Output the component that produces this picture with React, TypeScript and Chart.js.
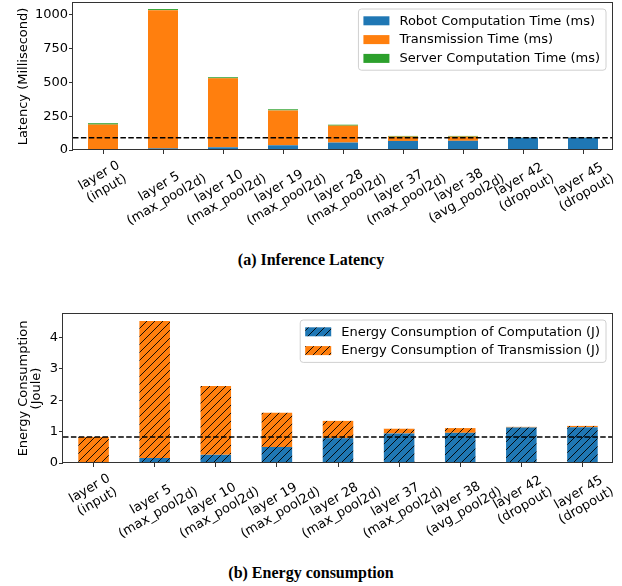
import React, { useEffect, useRef } from "react";
import { Chart, registerables } from "chart.js";

Chart.register(...registerables);

// ---------- data ----------
const layerLabels: string[][] = [
  ["layer 0", "(input)"],
  ["layer 5", "(max_pool2d)"],
  ["layer 10", "(max_pool2d)"],
  ["layer 19", "(max_pool2d)"],
  ["layer 28", "(max_pool2d)"],
  ["layer 37", "(max_pool2d)"],
  ["layer 38", "(avg_pool2d)"],
  ["layer 42", "(dropout)"],
  ["layer 45", "(dropout)"],
];

const robotTime = [0, 12, 20, 35, 55, 67, 68, 91, 91];
const transTime = [188, 1022, 510, 258, 125, 32, 31, 2, 2];
const serverTime = [10, 8, 8, 8, 7, 5, 5, 1, 1];
const latencyThreshold = 91;
const latencyTicks = [0, 250, 500, 750, 1000];
const latencyMax = 1087;

const compEnergy = [0, 0.16, 0.26, 0.51, 0.79, 0.94, 0.96, 1.13, 1.14];
const transEnergy = [0.83, 4.36, 2.19, 1.09, 0.55, 0.15, 0.15, 0.02, 0.04];
const energyThreshold = 0.83;
const energyTicks = [0, 1, 2, 3, 4];
const energyMax = 4.74;

// ---------- style ----------
const FONT = "'DejaVu Sans', 'Noto Sans', sans-serif";
const BLUE = "#1f77b4";
const ORANGE = "#ff7f0e";
const GREEN = "#2ca02c";
const SPINE = "#333333";

function hatch(color: string): CanvasPattern | string {
  const s = 8;
  const c = document.createElement("canvas");
  c.width = s;
  c.height = s;
  const g = c.getContext("2d");
  if (!g) return color;
  g.fillStyle = color;
  g.fillRect(0, 0, s, s);
  g.strokeStyle = "#000";
  g.lineWidth = 0.9;
  g.beginPath();
  g.moveTo(-1, s + 1);
  g.lineTo(s + 1, -1);
  g.moveTo(-s / 2 - 1, s / 2 + 1);
  g.lineTo(s / 2 + 1, -s / 2 - 1);
  g.moveTo(s / 2 - 1, s * 1.5 + 1);
  g.lineTo(s * 1.5 + 1, s / 2 - 1);
  g.stroke();
  return g.createPattern(c, "repeat") || color;
}

type LegendItem = { label: string; fill: any };

function makePlugin(threshold: number, legendItems: LegendItem[]) {
  return {
    id: "custom" + Math.random().toString(36).slice(2),
    afterDraw(chart: any) {
      const ctx: CanvasRenderingContext2D = chart.ctx;
      const area = chart.chartArea;
      const ys = chart.scales.y;
      const xs = chart.scales.x;

      // dashed threshold line
      ctx.save();
      const yy = ys.getPixelForValue(threshold);
      ctx.strokeStyle = "#000";
      ctx.lineWidth = 1.5;
      ctx.setLineDash([5.5, 2.4]);
      ctx.beginPath();
      ctx.moveTo(area.left, yy);
      ctx.lineTo(area.right, yy);
      ctx.stroke();
      ctx.restore();

      // frame (spines)
      ctx.save();
      ctx.strokeStyle = SPINE;
      ctx.lineWidth = 1;
      ctx.strokeRect(
        Math.round(area.left) - 0.5,
        Math.round(area.top) - 0.5,
        Math.round(area.right - area.left) + 0.0,
        Math.round(area.bottom - area.top) + 0.0
      );
      ctx.restore();

      // rotated, centre-aligned multi-line x tick labels
      ctx.save();
      ctx.font = `13px ${FONT}`;
      ctx.fillStyle = "#000";
      ctx.textAlign = "center";
      ctx.textBaseline = "middle";
      const lh = 15;
      const ang = Math.PI / 6;
      const labels = chart.data.labels as string[][];
      labels.forEach((lines, i) => {
        const x = xs.getPixelForTick(i);
        const W = Math.max(...lines.map((l) => ctx.measureText(l).width));
        const H = lines.length * lh;
        const bh = W * Math.sin(ang) + H * Math.cos(ang);
        const cy = area.bottom + 8 + bh / 2;
        ctx.save();
        ctx.translate(x, cy);
        ctx.rotate(-ang);
        lines.forEach((l, j) => ctx.fillText(l, 0, (j - (lines.length - 1) / 2) * lh));
        ctx.restore();
      });
      ctx.restore();

      // legend (upper right, inside axes)
      ctx.save();
      ctx.font = `13px ${FONT}`;
      const tw = Math.max(...legendItems.map((it) => ctx.measureText(it.label).width));
      const padL = 5, handleW = 26, gap = 10, padR = 6;
      const w = padL + handleW + gap + tw + padR;
      const rowH = 18.8;
      const h = (legendItems.length - 1) * rowH + 23.6;
      const right = area.right - 7;
      const top = area.top + 6;
      const left = right - w;
      const r = 3;
      ctx.beginPath();
      ctx.moveTo(left + r, top);
      ctx.lineTo(left + w - r, top);
      ctx.quadraticCurveTo(left + w, top, left + w, top + r);
      ctx.lineTo(left + w, top + h - r);
      ctx.quadraticCurveTo(left + w, top + h, left + w - r, top + h);
      ctx.lineTo(left + r, top + h);
      ctx.quadraticCurveTo(left, top + h, left, top + h - r);
      ctx.lineTo(left, top + r);
      ctx.quadraticCurveTo(left, top, left + r, top);
      ctx.closePath();
      ctx.fillStyle = "rgba(255,255,255,0.8)";
      ctx.fill();
      ctx.strokeStyle = "#d0d0d0";
      ctx.lineWidth = 1;
      ctx.stroke();
      ctx.textAlign = "left";
      ctx.textBaseline = "middle";
      legendItems.forEach((it, i) => {
        const cy = top + 11.8 + i * rowH;
        ctx.fillStyle = it.fill;
        ctx.fillRect(left + padL, cy - 4.5, handleW, 9);
        ctx.fillStyle = "#000";
        ctx.fillText(it.label, left + padL + handleW + gap, cy + 0.5);
      });
      ctx.restore();
    },
  };
}

function makeConfig(opts: {
  datasets: any[];
  tickValues: number[];
  max: number;
  yTitle: string | string[];
  titlePadTop: number;
  titleLineHeight: number;
  yWidth: number;
  xHeight: number;
  padTop: number;
  threshold: number;
  legend: LegendItem[];
}): any {
  return {
    type: "bar",
    data: { labels: layerLabels, datasets: opts.datasets },
    options: {
      animation: false,
      responsive: false,
      events: [],
      layout: { padding: { left: 0, right: 9, top: opts.padTop, bottom: 0 } },
      plugins: { legend: { display: false }, tooltip: { enabled: false } },
      scales: {
        x: {
          type: "category",
          stacked: true,
          offset: true,
          border: { display: false },
          grid: {
            display: true,
            offset: false,
            drawOnChartArea: false,
            drawTicks: true,
            tickLength: 4,
            color: SPINE,
          },
          ticks: { display: false },
          afterFit: (s: any) => {
            s.height = opts.xHeight;
            s.paddingLeft = 0;
            s.paddingRight = 0;
          },
        },
        y: {
          type: "linear",
          stacked: true,
          min: 0,
          max: opts.max,
          border: { display: false },
          grid: {
            display: true,
            drawOnChartArea: false,
            drawTicks: true,
            tickLength: 4,
            color: SPINE,
          },
          ticks: {
            color: "#000",
            padding: 1,
            font: { family: FONT, size: 13 },
            callback: (v: any) => String(v),
          },
          afterBuildTicks: (s: any) => {
            s.ticks = opts.tickValues.map((v) => ({ value: v }));
          },
          title: {
            display: true,
            text: opts.yTitle,
            color: "#000",
            font: { family: FONT, size: 13, lineHeight: opts.titleLineHeight },
            padding: { top: opts.titlePadTop, bottom: 0 },
          },
          afterFit: (s: any) => {
            s.width = opts.yWidth;
            s.paddingTop = 0;
            s.paddingBottom = 0;
          },
        },
      },
    },
    plugins: [makePlugin(opts.threshold, opts.legend)],
  };
}

const barCommon = { barPercentage: 0.5, categoryPercentage: 1.0, borderWidth: 0 };

function LatencyChart() {
  const ref = useRef<HTMLCanvasElement | null>(null);
  useEffect(() => {
    if (!ref.current) return;
    const chart = new Chart(
      ref.current,
      makeConfig({
        datasets: [
          { label: "Robot Computation Time (ms)", data: robotTime, backgroundColor: BLUE, ...barCommon },
          { label: "Transmission Time (ms)", data: transTime, backgroundColor: ORANGE, ...barCommon },
          { label: "Server Computation Time (ms)", data: serverTime, backgroundColor: GREEN, ...barCommon },
        ],
        tickValues: latencyTicks,
        max: latencyMax,
        yTitle: "Latency (Millisecond)",
        titlePadTop: 16,
        titleLineHeight: 1.2,
        yWidth: 73,
        xHeight: 95,
        padTop: 3,
        threshold: latencyThreshold,
        legend: [
          { label: "Robot Computation Time (ms)", fill: BLUE },
          { label: "Transmission Time (ms)", fill: ORANGE },
          { label: "Server Computation Time (ms)", fill: GREEN },
        ],
      })
    );
    return () => chart.destroy();
  }, []);
  return (
    <canvas
      ref={ref}
      width={622}
      height={245}
      style={{ position: "absolute", left: 0, top: 0, width: 622, height: 245 }}
    />
  );
}

function EnergyChart() {
  const ref = useRef<HTMLCanvasElement | null>(null);
  useEffect(() => {
    if (!ref.current) return;
    const blueHatch = hatch(BLUE);
    const orangeHatch = hatch(ORANGE);
    const chart = new Chart(
      ref.current,
      makeConfig({
        datasets: [
          { label: "Energy Consumption of Computation (J)", data: compEnergy, backgroundColor: blueHatch, ...barCommon },
          { label: "Energy Consumption of Transmission (J)", data: transEnergy, backgroundColor: orangeHatch, ...barCommon },
        ],
        tickValues: energyTicks,
        max: energyMax,
        yTitle: ["Energy Consumption", "(Joule)"],
        titlePadTop: 17.5,
        titleLineHeight: 1.0,
        yWidth: 63,
        xHeight: 82,
        padTop: 14,
        threshold: energyThreshold,
        legend: [
          { label: "Energy Consumption of Computation (J)", fill: blueHatch },
          { label: "Energy Consumption of Transmission (J)", fill: orangeHatch },
        ],
      })
    );
    return () => chart.destroy();
  }, []);
  return (
    <canvas
      ref={ref}
      width={622}
      height={245}
      style={{ position: "absolute", left: 0, top: 300, width: 622, height: 245 }}
    />
  );
}

const captionStyle: React.CSSProperties = {
  position: "absolute",
  left: 0,
  width: 622,
  textAlign: "center",
  fontFamily: "'Liberation Serif', 'DejaVu Serif', serif",
  fontWeight: "bold",
  fontSize: 16,
  lineHeight: "20px",
  color: "#000",
};

export default function App() {
  return (
    <div
      style={{
        position: "absolute",
        left: 0,
        top: 0,
        width: 622,
        height: 586,
        background: "#fff",
        overflow: "hidden",
      }}
    >
      <LatencyChart />
      <div style={{ ...captionStyle, top: 250 }}>(a) Inference Latency</div>
      <EnergyChart />
      <div style={{ ...captionStyle, top: 563 }}>(b) Energy consumption</div>
    </div>
  );
}
